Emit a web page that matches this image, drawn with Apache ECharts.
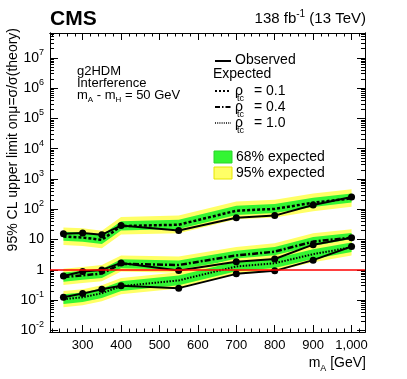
<!DOCTYPE html>
<html>
<head>
<meta charset="utf-8">
<script src="https://cdn.jsdelivr.net/npm/echarts@6/dist/echarts.min.js"></script>
<style>
  html, body { margin: 0; padding: 0; background: #fff; }
  #chart { width: 407px; height: 379px; }
</style>
</head>
<body>
<div id="chart"></div>
<script>
// m_A points (GeV)
var mass = [250, 300, 350, 400, 550, 700, 800, 900, 1000];

// rho_tc = 0.1
var obsRho01 = [15.5, 16.5, 14.5, 29, 20, 53, 62, 138, 255];
var expRho01 = [12.6, 11.7, 9.8, 28, 31, 90, 103, 165, 230];
var g68LoRho01 = [9.1, 8.5, 7.1, 20, 22.5, 65, 75, 120, 167];
var g68HiRho01 = [18.3, 17, 14.2, 40.5, 45, 130, 150, 240, 335];
var y95LoRho01 = [6.6, 6.2, 5.2, 14.7, 16.3, 47, 54, 87, 121];
var y95HiRho01 = [25, 23.5, 19.6, 56, 62, 180, 206, 330, 460];

// rho_tc = 0.4
var obsRho04 = [0.63, 0.88, 1.0, 1.7, 0.95, 1.86, 2.3, 6.8, 11.6];
var expRho04 = [0.58, 0.66, 0.76, 1.58, 1.45, 3.0, 4.0, 8.6, 11.6];
var g68LoRho04 = [0.41, 0.47, 0.54, 1.13, 1.04, 2.15, 2.85, 6.1, 8.3];
var g68HiRho04 = [0.82, 0.94, 1.08, 2.25, 2.05, 4.25, 5.7, 12.2, 16.5];
var y95LoRho04 = [0.32, 0.37, 0.42, 0.88, 0.8, 1.67, 2.2, 4.8, 6.4];
var y95HiRho04 = [1.1, 1.25, 1.44, 3.0, 2.75, 5.7, 7.6, 16.3, 22];

// rho_tc = 1.0
var obsRho10 = [0.125, 0.165, 0.23, 0.3, 0.25, 0.74, 0.93, 2.1, 5.9];
var expRho10 = [0.108, 0.125, 0.17, 0.29, 0.45, 1.3, 1.66, 3.3, 5.6];
var g68LoRho10 = [0.075, 0.087, 0.118, 0.2, 0.31, 0.9, 1.15, 2.3, 3.9];
var g68HiRho10 = [0.157, 0.18, 0.245, 0.42, 0.65, 1.88, 2.4, 4.8, 8.1];
var y95LoRho10 = [0.058, 0.068, 0.092, 0.157, 0.245, 0.7, 0.9, 1.8, 3.0];
var y95HiRho10 = [0.2, 0.23, 0.31, 0.54, 0.83, 2.4, 3.07, 6.1, 10.4];

// axis ticks
var xMajor = [300, 400, 500, 600, 700, 800, 900, 1000];
var xMinor = [220, 240, 260, 280, 320, 340, 360, 380, 420, 440, 460, 480, 520, 540, 560, 580,
    620, 640, 660, 680, 720, 740, 760, 780, 820, 840, 860, 880, 920, 940, 960, 980, 1020];
var yDecades = [-2, -1, 0, 1, 2, 3, 4, 5, 6, 7];

var FONT = '"Liberation Sans", Arial, Helvetica, sans-serif';
var GREEN = '#33f533';
var YELLOW = '#ffff66';

var yMinor = [];
yDecades.concat([-3]).forEach(function (d) {
    for (var k = 2; k <= 9; k++) {
        var v = d + Math.log10(k);
        if (v > -2.05 && v < 7.82) yMinor.push(v);
    }
});

function pairs(vals) {
    return vals.map(function (v, i) {
        return [mass[i], Math.log10(v)];
    });
}

function band(name, lo, hi, color) {
    return {
        name: name,
        type: 'custom',
        clip: true,
        silent: true,
        data: mass.map(function (m, i) {
            return [m, Math.log10(lo[i]), Math.log10(hi[i])];
        }),
        encode: { x: 0, y: [1, 2] },
        renderItem: function (params, api) {
            if (params.dataIndex !== 0) return null;
            var pts = [];
            var i;
            for (i = 0; i < mass.length; i++) pts.push(api.coord([mass[i], Math.log10(hi[i])]));
            for (i = mass.length - 1; i >= 0; i--) pts.push(api.coord([mass[i], Math.log10(lo[i])]));
            return {
                type: 'polygon',
                shape: { points: pts },
                style: { fill: color, stroke: null }
            };
        }
    };
}

function expLine(name, vals, dash, width) {
    return {
        name: name,
        type: 'line',
        data: pairs(vals),
        symbol: 'none',
        z: 3,
        lineStyle: { color: '#000', width: width, type: dash }
    };
}

function obsLine(name, vals) {
    return {
        name: name,
        type: 'line',
        data: pairs(vals),
        symbol: 'circle',
        symbolSize: 7,
        showSymbol: true,
        z: 4,
        itemStyle: { color: '#000' },
        lineStyle: { color: '#000', width: 2 }
    };
}

function xAxisDef(pos, ticks, len, labels) {
    return {
        type: 'value', min: 215, max: 1035, position: pos,
        axisLine: { show: true, onZero: false, lineStyle: { color: '#000', width: 1 } },
        axisTick: { show: true, inside: true, length: len, customValues: ticks, lineStyle: { color: '#000' } },
        axisLabel: labels ? { show: true, customValues: xMajor, margin: 7, color: '#000', fontSize: 13, fontFamily: FONT } : { show: false },
        splitLine: { show: false }
    };
}

function yAxisDef(pos, ticks, len, labels) {
    return {
        type: 'value', min: -2.05, max: 7.82, position: pos,
        axisLine: { show: true, onZero: false, lineStyle: { color: '#000', width: 1 } },
        axisTick: { show: true, inside: true, length: len, customValues: ticks, lineStyle: { color: '#000' } },
        axisLabel: labels ? {
            show: true, customValues: yDecades, margin: 6, color: '#000',
            fontSize: 14, fontFamily: FONT,
            formatter: function (v) {
                var d = Math.round(v);
                if (d === 0) return '{b|1}';
                if (d === 1) return '{b|10}';
                return '{b|10}{s|' + d + '}';
            },
            rich: {
                b: { fontSize: 14, fontFamily: FONT, color: '#000', lineHeight: 20, verticalAlign: 'middle' },
                s: { fontSize: 9, fontFamily: FONT, color: '#000', lineHeight: 10, verticalAlign: 'top' }
            }
        } : { show: false },
        splitLine: { show: false }
    };
}

var txt = { fontFamily: FONT, fill: '#000' };
function text(x, y, s, size, extra) {
    var st = { text: s, fontSize: size, fontFamily: FONT, fill: '#000', verticalAlign: 'middle' };
    for (var k in extra) st[k] = extra[k];
    return { type: 'text', x: x, y: y, style: st, z: 10 };
}
function legendLine(y, dash, width) {
    return {
        type: 'line', shape: { x1: 215, y1: y, x2: 231, y2: y }, z: 10,
        style: { stroke: '#000', lineWidth: width, lineDash: dash }
    };
}
function rhoRow(y, dash, width, val) {
    return [
        legendLine(y, dash, width),
        text(235, y, 'ρ', 14),
        text(237, y + 8, 'tc', 9),
        text(254, y, '= ' + val, 14)
    ];
}

var graphics = [
    text(50, 19, 'CMS', 21, { fontWeight: 'bold' }),
    {
        type: 'text', x: 366, y: 19, z: 10,
        style: {
            text: '{a|138 fb}{s|-1}{a| (13 TeV)}', align: 'right', verticalAlign: 'middle',
            rich: {
                a: { fontSize: 15, fontFamily: FONT, color: '#000', lineHeight: 20, verticalAlign: 'middle' },
                s: { fontSize: 10, fontFamily: FONT, color: '#000', lineHeight: 10, verticalAlign: 'top' }
            }
        }
    },
    {
        type: 'text', x: 13, y: 28, rotation: Math.PI / 2, z: 10,
        style: { text: '95% CL upper limit onμ=σ/σ(theory)', fontSize: 14, fontFamily: FONT, fill: '#000', align: 'right', verticalAlign: 'middle' }
    },
    {
        type: 'text', x: 366, y: 363, z: 10,
        style: {
            text: '{a|m}{s|A}{a| [GeV]}', align: 'right', verticalAlign: 'middle',
            rich: {
                a: { fontSize: 14, fontFamily: FONT, color: '#000', lineHeight: 20, verticalAlign: 'middle' },
                s: { fontSize: 9, fontFamily: FONT, color: '#000', lineHeight: 10, verticalAlign: 'bottom' }
            }
        }
    },
    text(77, 71, 'g2HDM', 13),
    text(77, 83, 'Interference', 13),
    {
        type: 'text', x: 77, y: 95, z: 10,
        style: {
            text: '{a|m}{s|A}{a| - m}{s|H}{a| = 50 GeV}', verticalAlign: 'middle',
            rich: {
                a: { fontSize: 13, fontFamily: FONT, color: '#000', lineHeight: 18, verticalAlign: 'middle' },
                s: { fontSize: 8, fontFamily: FONT, color: '#000', lineHeight: 8, verticalAlign: 'bottom' }
            }
        }
    },
    legendLine(61, null, 2),
    text(235, 60, 'Observed', 14),
    text(213, 74, 'Expected', 14),
    {
        type: 'rect', shape: { x: 214, y: 151, width: 18, height: 12 }, z: 10,
        style: { fill: GREEN, stroke: '#2bd42b', lineWidth: 1 }
    },
    text(236, 157, '68% expected', 14),
    {
        type: 'rect', shape: { x: 214, y: 167, width: 18, height: 12 }, z: 10,
        style: { fill: YELLOW, stroke: '#e6e600', lineWidth: 1 }
    },
    text(236, 173, '95% expected', 14)
]
    .concat(rhoRow(91, [2, 2], 2, '0.1'))
    .concat(rhoRow(107, [5, 2, 1.5, 2], 2, '0.4'))
    .concat(rhoRow(123, [1, 1.2], 1.5, '1.0'));

var series = [
    band('95% rho 0.1', y95LoRho01, y95HiRho01, YELLOW),
    band('68% rho 0.1', g68LoRho01, g68HiRho01, GREEN),
    band('95% rho 0.4', y95LoRho04, y95HiRho04, YELLOW),
    band('68% rho 0.4', g68LoRho04, g68HiRho04, GREEN),
    band('95% rho 1.0', y95LoRho10, y95HiRho10, YELLOW),
    band('68% rho 1.0', g68LoRho10, g68HiRho10, GREEN),
    expLine('Expected rho 0.1', expRho01, [3, 2], 2.5),
    expLine('Expected rho 0.4', expRho04, [6, 2, 2, 2], 2.5),
    expLine('Expected rho 1.0', expRho10, [1.5, 1.5], 2),
    obsLine('Observed rho 0.1', obsRho01),
    obsLine('Observed rho 0.4', obsRho04),
    obsLine('Observed rho 1.0', obsRho10)
];

series[0].markLine = {
    silent: true,
    symbol: 'none',
    z: 6,
    label: { show: false },
    lineStyle: { color: '#ff0000', width: 1.5, type: 'solid' },
    data: [{ yAxis: 0 }]
};

var chart = echarts.init(document.getElementById('chart'), null, { renderer: 'canvas' });
chart.setOption({
    animation: false,
    backgroundColor: '#fff',
    grid: { left: 50, right: 42, top: 33, bottom: 47 },
    xAxis: [
        xAxisDef('bottom', xMajor, 7, true),
        xAxisDef('bottom', xMinor, 3.5, false),
        xAxisDef('top', xMajor, 7, false),
        xAxisDef('top', xMinor, 3.5, false)
    ],
    yAxis: [
        yAxisDef('left', yDecades, 8, true),
        yAxisDef('left', yMinor, 4, false),
        yAxisDef('right', yDecades, 8, false),
        yAxisDef('right', yMinor, 4, false)
    ],
    series: series,
    graphic: graphics
});
</script>
</body>
</html>
